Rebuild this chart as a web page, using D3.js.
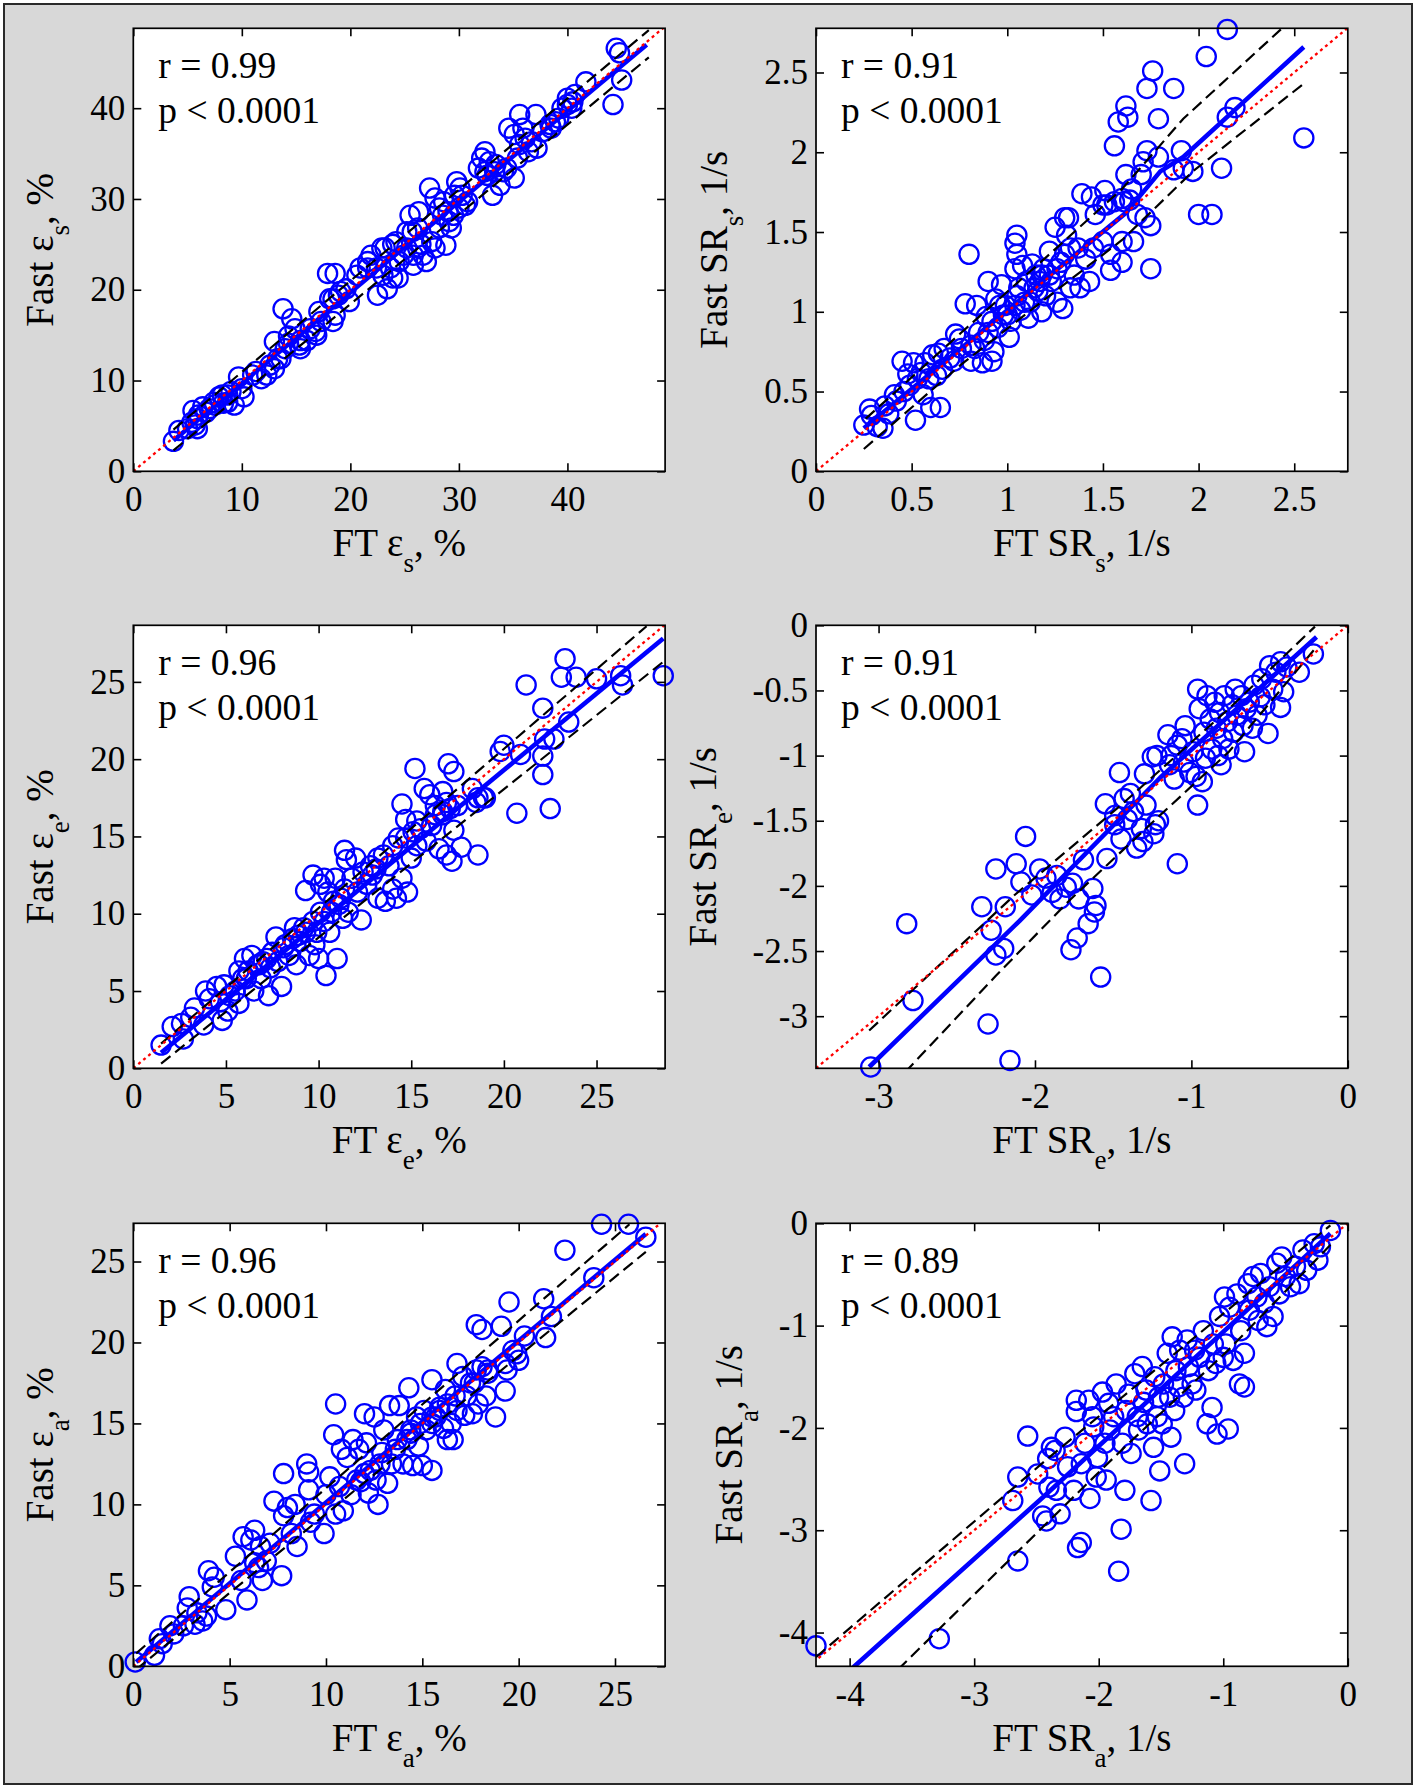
<!DOCTYPE html>
<html><head><meta charset="utf-8">
<script src="https://cdn.jsdelivr.net/npm/d3@7"></script>
<style>body{margin:0;background:#fff}svg{display:block}</style>
</head><body>
<script>
// ---------- DATA ----------
// Panel 1: FT εs vs Fast εs (%)
const ptsStrainS = [[3.7,3.3],[4.2,4.5],[5.5,6.7],[5.9,5.8],[5.9,4.7],[6.4,7.1],[7.4,7.6],[7.9,8.2],[8.3,7.5],[8.7,8.4],[9.3,7.3],[9.7,10.4],[10.2,8.2],[11.3,11.0],[12.3,10.6],[13.0,11.3],[13.0,14.3],[13.8,17.9],[13.6,12.4],[14.3,14.9],[14.6,16.8],[14.9,15.7],[15.4,13.5],[15.4,14.4],[16.3,15.7],[16.9,15.0],[17.1,17.6],[17.9,21.8],[18.6,21.8],[18.4,16.5],[18.4,19.0],[19.1,19.8],[19.9,18.7],[20.6,21.6],[21.6,23.1],[22.5,19.4],[22.9,24.6],[23.4,20.1],[23.7,22.4],[24.2,25.3],[24.4,21.3],[24.9,23.8],[25.2,26.4],[25.5,28.2],[25.8,22.7],[26.2,24.6],[26.3,28.6],[26.7,23.8],[27.0,23.1],[27.3,31.2],[27.8,30.1],[28.2,26.8],[28.8,24.9],[29.1,27.5],[29.8,31.9],[30.0,29.0],[30.3,30.4],[30.6,29.3],[32.4,35.2],[32.6,32.6],[33.1,30.4],[33.4,33.8],[33.8,31.5],[34.4,33.4],[34.6,37.8],[35.1,32.3],[35.6,39.3],[35.9,37.8],[36.4,35.2],[37.1,39.3],[37.2,35.6],[38.4,38.2],[39.2,38.9],[40.0,41.1],[40.4,40.0],[41.7,42.9],[44.2,40.4],[44.5,46.6],[44.8,46.1],[45.0,43.1],
[21.9,23.8],[22.4,22.4],[23.2,24.6],[23.9,25.0],[24.5,23.1],[25.2,24.6],[25.7,26.4],[23.9,21.3],[23.0,21.6],[29.6,30.4],[30.1,31.2],[30.8,29.7],[32.1,34.5],[32.8,34.1],[34.1,33.0],[35.4,34.5],[36.1,36.7],[36.7,36.3],[38.5,37.8],[39.5,40.0],[40.0,40.4],[40.5,40.7],[40.7,41.5],[38.9,38.5],[37.7,37.4],[35.1,37.1],[35.6,36.0],[32.4,33.0],[31.8,33.4],[33.3,33.0],[28.2,29.0],[28.5,28.2],[28.6,29.7],[29.0,28.6],[29.3,26.8],[29.5,28.2],[27.5,25.3],[27.8,24.6],[26.5,25.0],[26.2,26.8],[25.8,23.8],[21.6,22.4],[20.9,22.4],[19.6,20.1],[18.9,19.4],[18.6,17.2],[18.1,19.0],[17.3,16.5],[16.8,15.4],[16.0,14.4],[15.3,13.9],[14.3,14.1],[14.0,13.5],[13.3,12.4],[12.6,11.7],[11.8,10.2],[11.0,10.6],[10.0,9.1],[9.0,8.8],[8.7,7.6],[8.2,8.4],[7.5,7.3],[7.0,6.9],[6.7,6.5],[6.0,6.2],[5.4,5.4],[5.7,5.1],[5.0,4.7]];
const fitStrainS = [[3.7,3.4],[47.3,47.0]];
const upStrainS = [[3.7,4.6],[47.5,48.6]];
const loStrainS = [[3.7,2.3],[47.5,45.6]];

// Panel 2: FT SRs vs Fast SRs (1/s)
const ptsRateS = [[0.25,0.29],[0.28,0.39],[0.29,0.35],[0.32,0.28],[0.35,0.27],[0.36,0.41],[0.38,0.36],[0.41,0.48],[0.45,0.69],[0.46,0.50],[0.48,0.61],[0.49,0.54],[0.51,0.68],[0.52,0.32],[0.53,0.58],[0.56,0.48],[0.57,0.68],[0.60,0.40],[0.61,0.73],[0.63,0.60],[0.64,0.74],[0.65,0.40],[0.67,0.77],[0.70,0.71],[0.73,0.86],[0.75,0.83],[0.78,1.05],[0.80,1.36],[0.81,0.69],[0.83,0.77],[0.84,1.04],[0.87,0.68],[0.88,0.82],[0.89,0.97],[0.90,1.19],[0.92,0.69],[0.93,0.75],[0.94,1.08],[0.95,0.90],[0.97,1.17],[0.98,0.98],[0.99,1.04],[1.01,0.84],[1.02,0.94],[1.04,1.43],[1.04,1.27],[1.05,1.48],[1.05,1.36],[1.05,1.10],[1.07,1.01],[1.08,1.29],[1.10,1.19],[1.11,0.96],[1.12,1.06],[1.13,1.30],[1.15,1.23],[1.16,1.13],[1.18,1.23],[1.18,1.00],[1.20,1.10],[1.22,1.38],[1.23,1.19],[1.25,1.53],[1.26,1.06],[1.28,1.31],[1.29,1.02],[1.30,1.59],[1.31,1.48],[1.32,1.59],[1.33,1.15],[1.35,1.23],[1.37,1.40],[1.38,1.15],[1.39,1.74],[1.41,1.33],[1.43,1.19],[1.44,1.72],[1.45,1.40],[1.46,1.61],[1.50,1.44],[1.51,1.76],[1.52,1.67],[1.54,1.36],[1.54,1.26],[1.56,2.04],[1.58,2.19],[1.60,1.31],[1.60,1.44],[1.61,1.69],[1.62,2.29],[1.63,2.22],[1.62,1.86],[1.64,1.70],[1.66,1.44],[1.68,1.61],[1.70,1.86],[1.71,1.94],[1.72,1.59],[1.73,2.40],[1.73,2.01],[1.75,1.54],[1.75,1.27],[1.76,2.51],[1.79,2.21],[1.79,1.97],[1.87,2.40],[1.87,1.89],[1.91,2.01],[1.92,1.90],[1.97,1.88],[2.00,1.61],[2.04,2.60],[2.07,1.61],[2.12,1.90],[2.15,2.77],[2.15,2.22],[2.19,2.28],[2.55,2.09],
[0.96,1.04],[1.00,0.98],[1.04,1.04],[1.06,1.15],[1.09,1.06],[1.14,1.15],[1.17,1.19],[1.19,1.27],[1.22,1.23],[1.26,1.27],[1.30,1.36],[1.33,1.40],[0.92,0.94],[0.90,0.87],[0.85,0.87],[0.81,0.79],[0.76,0.77],[0.72,0.69],[0.66,0.64],[0.59,0.58],[0.55,0.62],[0.42,0.44],[1.50,1.67],[1.56,1.69],[1.60,1.71],[1.65,1.77]];
const fitRateS = [[0.25,0.27],[1.62,1.62],[1.80,1.88],[1.92,1.97],[2.55,2.66]];
const upRateS = [[0.26,0.33],[0.76,0.87],[1.22,1.36],[1.60,1.77],[1.92,2.21],[2.43,2.77]];
const loRateS = [[0.25,0.14],[0.76,0.67],[1.22,1.10],[1.60,1.45],[1.97,1.88],[2.56,2.44]];

// Panel 3: FT εe vs Fast εe (%)
const ptsStrainE = [[1.5,1.5],[2.1,2.7],[2.7,1.9],[2.6,2.9],[3.1,3.3],[3.3,3.9],[3.8,2.8],[3.9,5.0],[4.1,4.5],[4.5,5.3],[4.7,4.3],[4.8,3.1],[4.9,5.4],[5.1,3.7],[5.2,4.7],[5.7,4.2],[5.7,6.3],[6.0,7.1],[6.1,5.8],[6.4,7.3],[6.5,5.0],[6.7,6.7],[6.9,5.8],[7.2,7.1],[7.3,4.7],[7.4,6.5],[7.7,8.5],[7.8,6.9],[8.0,5.3],[8.1,7.8],[8.4,7.3],[8.7,9.1],[8.8,6.7],[9.0,8.2],[9.2,9.1],[9.3,11.5],[9.5,7.3],[9.7,12.5],[9.8,8.0],[9.9,8.8],[10.0,7.1],[10.1,11.9],[10.3,12.3],[10.4,6.0],[10.5,11.4],[10.6,8.8],[10.7,10.1],[10.9,12.3],[11.0,7.1],[11.1,10.6],[11.3,9.7],[11.4,14.1],[11.5,13.5],[11.6,10.1],[12.0,13.6],[12.1,11.4],[12.3,9.6],[12.6,11.9],[12.9,12.5],[13.1,12.9],[13.2,11.0],[13.5,13.8],[13.6,10.8],[13.8,13.1],[14.0,11.6],[14.2,11.0],[14.5,17.1],[14.5,12.3],[14.8,11.4],[14.7,16.1],[14.7,14.9],[15.0,13.6],[15.2,19.4],[15.3,14.4],[15.5,15.5],[15.7,18.1],[15.8,14.7],[16.0,17.7],[16.1,15.7],[16.3,17.0],[16.5,14.2],[16.7,17.9],[16.7,16.4],[16.9,13.8],[17.0,19.7],[17.1,16.8],[17.2,13.4],[17.3,19.2],[17.3,15.4],[17.7,14.3],[18.3,18.1],[18.5,17.2],[18.6,13.8],[18.9,17.5],[19.8,20.5],[20.0,20.9],[20.7,16.5],[20.9,20.3],[21.2,24.8],[22.1,23.3],[22.1,20.2],[22.1,19.0],[22.2,21.3],[22.5,16.8],[22.7,21.3],[23.3,26.5],[23.1,25.3],[23.5,22.4],[23.9,25.3],[25.0,25.2],[26.3,25.4],[26.4,24.8],[28.6,25.4],
[5.5,5.0],[5.9,5.8],[6.2,6.3],[6.8,6.7],[7.0,6.9],[7.5,7.5],[8.2,8.0],[8.6,8.4],[8.9,8.6],[9.3,8.8],[9.7,9.5],[10.1,10.1],[10.3,9.5],[10.8,10.8],[11.2,11.0],[11.4,11.6],[11.8,12.3],[12.4,12.7],[12.8,13.1],[13.2,13.6],[14.0,14.4],[14.3,14.9],[15.1,15.3],[15.3,16.0],[16.3,16.4],[16.7,16.6],[16.9,17.2],[17.5,17.0],[18.6,17.5],[19.0,17.5]];
const fitStrainE = [[1.5,1.0],[28.6,27.8]];
const upStrainE = [[1.5,1.6],[27.7,28.6]];
const loStrainE = [[1.5,0.3],[28.6,26.3]];

// Panel 4: FT SRe vs Fast SRe (1/s)
const ptsRateE = [[-3.05,-3.39],[-2.82,-2.29],[-2.78,-2.88],[-2.34,-2.16],[-2.30,-3.06],[-2.28,-2.34],[-2.25,-1.87],[-2.25,-2.53],[-2.20,-2.48],[-2.19,-2.16],[-2.16,-3.34],[-2.12,-1.83],[-2.09,-1.97],[-2.06,-1.62],[-2.02,-2.07],[-1.97,-1.87],[-1.93,-1.94],[-1.89,-2.05],[-1.86,-1.92],[-1.84,-2.10],[-1.80,-2.01],[-1.77,-2.49],[-1.76,-1.98],[-1.73,-2.40],[-1.72,-2.10],[-1.69,-1.80],[-1.66,-2.29],[-1.63,-2.02],[-1.62,-2.20],[-1.61,-2.15],[-1.58,-2.70],[-1.55,-1.37],[-1.54,-1.79],[-1.49,-1.53],[-1.49,-1.46],[-1.46,-1.13],[-1.45,-1.64],[-1.43,-1.33],[-1.41,-1.49],[-1.39,-1.29],[-1.37,-1.43],[-1.35,-1.71],[-1.32,-1.56],[-1.31,-1.66],[-1.30,-1.14],[-1.29,-1.38],[-1.25,-1.01],[-1.24,-1.60],[-1.23,-1.53],[-1.21,-1.50],[-1.22,-1.00],[-1.15,-0.84],[-1.14,-1.07],[-1.13,-1.00],[-1.11,-1.18],[-1.09,-0.92],[-1.09,-1.83],[-1.06,-0.87],[-1.05,-1.05],[-1.04,-0.77],[-1.01,-1.13],[-0.99,-0.97],[-0.97,-1.16],[-0.96,-1.38],[-0.96,-0.49],[-0.95,-0.64],[-0.93,-1.20],[-0.92,-0.82],[-0.91,-1.02],[-0.90,-0.54],[-0.88,-0.72],[-0.87,-0.95],[-0.85,-0.59],[-0.84,-0.79],[-0.83,-1.00],[-0.82,-0.67],[-0.81,-1.07],[-0.80,-0.87],[-0.79,-0.54],[-0.77,-0.74],[-0.76,-0.95],[-0.74,-0.61],[-0.73,-0.82],[-0.72,-0.49],[-0.71,-0.69],[-0.68,-0.54],[-0.67,-0.77],[-0.66,-0.97],[-0.65,-0.64],[-0.63,-0.59],[-0.61,-0.79],[-0.60,-0.46],[-0.58,-0.69],[-0.56,-0.55],[-0.55,-0.41],[-0.53,-0.61],[-0.51,-0.83],[-0.50,-0.31],[-0.48,-0.49],[-0.46,-0.36],[-0.43,-0.28],[-0.43,-0.63],[-0.41,-0.51],[-0.39,-0.32],[-0.31,-0.36],[-0.22,-0.22]];
const fitRateE = [[-3.06,-3.39],[-2.10,-2.27],[-1.20,-1.17],[-0.20,-0.09]];
const upRateE = [[-3.06,-3.11],[-2.13,-2.07],[-1.45,-1.38],[-0.76,-0.64],[-0.21,-0.01]];
const loRateE = [[-2.83,-3.43],[-2.25,-2.69],[-1.77,-2.10],[-1.22,-1.48],[-0.76,-0.97],[-0.21,-0.18]];

// Panel 5: FT εa vs Fast εa (%)
const ptsStrainA = [[0.1,0.27],[1.1,0.68],[1.35,1.7],[1.5,1.4],[1.9,2.5],[2.1,2.0],[2.6,2.5],[2.8,3.6],[2.9,4.3],[3.2,2.6],[3.3,3.3],[3.6,2.8],[3.8,3.1],[3.9,5.9],[4.2,5.5],[4.1,4.9],[4.8,3.5],[5.3,6.8],[5.6,5.3],[5.7,8.0],[5.9,4.1],[6.1,7.8],[6.3,8.4],[6.3,6.4],[6.5,6.1],[6.6,7.4],[6.7,5.3],[6.9,6.5],[7.1,7.6],[7.3,10.2],[7.7,5.6],[7.8,11.9],[7.8,9.3],[8.0,9.8],[8.2,8.2],[8.4,10.0],[8.5,7.4],[9.0,12.5],[9.1,12.0],[9.1,10.9],[9.2,8.9],[9.4,9.4],[9.9,8.2],[10.0,10.6],[10.2,11.7],[10.4,14.3],[10.5,16.2],[10.5,9.4],[10.7,11.1],[10.8,13.4],[10.9,9.6],[11.1,12.9],[11.3,10.6],[11.4,14.0],[11.7,13.4],[11.8,11.4],[12.0,15.6],[12.1,13.8],[12.2,10.7],[12.3,12.1],[12.5,15.4],[12.6,11.5],[12.7,10.0],[12.9,13.2],[13.0,14.6],[13.2,11.3],[13.3,16.1],[13.4,12.5],[13.7,14.0],[13.8,16.1],[14.0,12.5],[14.2,14.0],[14.3,17.2],[14.4,14.6],[14.5,12.4],[14.7,15.4],[14.8,13.6],[15.0,12.4],[15.1,15.8],[15.2,14.6],[15.5,15.0],[15.5,17.7],[15.5,12.1],[15.7,15.4],[15.9,16.0],[16.1,14.7],[16.2,17.1],[16.3,14.0],[16.5,15.0],[16.6,14.0],[16.8,18.7],[16.8,15.8],[17.1,17.9],[17.2,15.5],[17.3,16.7],[17.5,17.5],[17.6,15.6],[17.8,21.1],[17.8,18.3],[17.9,16.2],[18.1,20.8],[18.1,18.5],[18.3,16.7],[18.4,18.3],[18.8,15.4],[19.1,21.0],[19.3,17.0],[19.4,18.3],[19.5,22.5],[19.7,19.5],[20.0,18.9],[20.3,20.4],[21.3,22.7],[21.4,20.3],[21.7,21.6],[22.4,25.7],[23.9,24.0],[24.3,27.3],[25.7,27.3],[26.6,26.5],
[11.6,11.5],[12.0,11.9],[12.8,12.5],[13.6,13.4],[14.4,14.4],[14.9,15.0],[15.5,15.4],[15.9,15.8],[16.3,16.2],[16.7,16.7],[17.7,17.5],[18.4,18.1],[19.3,18.7],[19.9,19.3]];
const fitStrainA = [[0.15,0.27],[26.6,26.7]];
const upStrainA = [[0.15,0.8],[25.75,27.3]];
const loStrainA = [[0.15,-0.2],[26.6,25.6]];

// Panel 6: FT SRa vs Fast SRa (1/s)
const ptsRateA = [[-4.27,-4.13],[-3.28,-4.06],[-2.69,-2.71],[-2.65,-3.30],[-2.65,-2.48],[-2.57,-2.08],[-2.49,-2.45],[-2.45,-2.86],[-2.42,-2.91],[-2.41,-2.30],[-2.40,-2.58],[-2.38,-2.19],[-2.35,-2.22],[-2.34,-2.61],[-2.31,-2.84],[-2.27,-2.09],[-2.25,-2.38],[-2.20,-2.61],[-2.18,-1.73],[-2.18,-1.84],[-2.17,-3.17],[-2.14,-3.12],[-2.14,-2.35],[-2.11,-2.15],[-2.08,-1.73],[-2.07,-2.69],[-2.05,-1.89],[-2.04,-1.99],[-2.02,-2.48],[-2.01,-2.29],[-1.97,-1.65],[-1.95,-2.15],[-1.94,-2.51],[-1.92,-1.76],[-1.91,-2.02],[-1.88,-1.89],[-1.86,-1.57],[-1.84,-3.40],[-1.82,-2.99],[-1.81,-2.15],[-1.79,-2.61],[-1.78,-1.83],[-1.76,-1.67],[-1.74,-2.25],[-1.71,-1.47],[-1.69,-1.89],[-1.68,-2.02],[-1.65,-1.40],[-1.64,-1.75],[-1.62,-1.63],[-1.61,-1.96],[-1.58,-2.71],[-1.56,-2.19],[-1.55,-1.50],[-1.53,-1.89],[-1.52,-1.70],[-1.51,-2.42],[-1.49,-1.96],[-1.48,-1.57],[-1.45,-1.27],[-1.43,-1.70],[-1.42,-2.09],[-1.41,-1.11],[-1.39,-1.83],[-1.38,-1.44],[-1.36,-1.60],[-1.35,-1.24],[-1.32,-1.70],[-1.31,-2.35],[-1.29,-1.14],[-1.28,-1.40],[-1.25,-1.57],[-1.23,-1.24],[-1.22,-1.63],[-1.19,-1.31],[-1.16,-1.05],[-1.13,-1.96],[-1.12,-1.44],[-1.09,-1.80],[-1.08,-1.18],[-1.06,-1.37],[-1.05,-2.06],[-1.03,-0.91],[-1.00,-1.31],[-0.99,-0.72],[-0.98,-1.18],[-0.96,-2.01],[-0.95,-0.82],[-0.92,-1.34],[-0.89,-0.69],[-0.87,-1.57],[-0.86,-1.05],[-0.83,-1.60],[-0.83,-1.27],[-0.80,-0.59],[-0.79,-0.85],[-0.76,-0.52],[-0.73,-0.72],[-0.72,-0.95],[-0.70,-0.49],[-0.67,-0.78],[-0.65,-1.01],[-0.63,-0.62],[-0.60,-0.91],[-0.57,-0.39],[-0.55,-0.69],[-0.53,-0.33],[-0.50,-0.52],[-0.46,-0.62],[-0.42,-0.42],[-0.39,-0.59],[-0.36,-0.26],[-0.33,-0.46],[-0.27,-0.20],[-0.24,-0.36],[-0.22,-0.23],[-0.14,-0.07]];
const fitRateA = [[-3.97,-4.34],[-2.45,-2.68],[-0.14,-0.10]];
const upRateA = [[-4.27,-4.24],[-2.40,-2.29],[-0.14,-0.02]];
const loRateA = [[-3.61,-4.36],[-2.40,-2.91],[-1.82,-2.22],[-0.96,-1.24],[-0.13,-0.20]];

// axis limits and tick values
const xDomains = [[0,49.0],[0,2.78],[0,28.7],[-3.4,0],[0,27.6],[-4.27,0]];
const yDomains = [[0,48.8],[0,2.777],[0,28.66],[-3.4,0],[0,27.36],[-4.33,0]];
const xTicks = [[0,10,20,30,40],[0,0.5,1,1.5,2,2.5],[0,5,10,15,20,25],[-3,-2,-1,0],[0,5,10,15,20,25],[-4,-3,-2,-1,0]];
const yTicks = [[0,10,20,30,40],[0,0.5,1,1.5,2,2.5],[0,5,10,15,20,25],[-3,-2.5,-2,-1.5,-1,-0.5,0],[0,5,10,15,20,25],[-4,-3,-2,-1,0]];

// labels (main text, subscript, tail)
const xLabels = [["FT ε","s",", %"],["FT SR","s",", 1/s"],["FT ε","e",", %"],["FT SR","e",", 1/s"],["FT ε","a",", %"],["FT SR","a",", 1/s"]];
const yLabels = [["Fast ε","s",", %"],["Fast SR","s",", 1/s"],["Fast ε","e",", %"],["Fast SR","e",", 1/s"],["Fast ε","a",", %"],["Fast SR","a",", 1/s"]];
const rValues = ["0.99","0.91","0.96","0.91","0.96","0.89"];
const pText = "p < 0.0001";

// ---------- DRAW ----------
const W = 1418, H = 1789;
const FONT = "'Liberation Serif','Times New Roman',serif";
const svg = d3.select("body").append("svg").attr("width", W).attr("height", H);
svg.append("rect").attr("x",4).attr("y",4).attr("width",1408).attr("height",1780)
  .attr("fill","#d8d8d8").attr("stroke","#2a2a2a").attr("stroke-width",2);

const colX = [133.3, 816];
const rowY = [28.3, 625.3, 1223.3];
const BW = 531.8, BH = 443;

const panels = [
  {pts: ptsStrainS, fit: fitStrainS, up: upStrainS, lo: loStrainS},
  {pts: ptsRateS, fit: fitRateS, up: upRateS, lo: loRateS},
  {pts: ptsStrainE, fit: fitStrainE, up: upStrainE, lo: loStrainE},
  {pts: ptsRateE, fit: fitRateE, up: upRateE, lo: loRateE},
  {pts: ptsStrainA, fit: fitStrainA, up: upStrainA, lo: loStrainA},
  {pts: ptsRateA, fit: fitRateA, up: upRateA, lo: loRateA}
];

const defs = svg.append("defs");

function addLabel(sel, parts, size, subSize, shift) {
  sel.append("tspan").text(parts[0]);
  sel.append("tspan").attr("font-size", subSize).attr("dy", shift).text(parts[1]);
  sel.append("tspan").attr("font-size", size).attr("dy", -shift).text(parts[2]);
}

panels.forEach((p, i) => {
  const x0 = colX[i % 2], y0 = rowY[Math.floor(i / 2)];
  const g = svg.append("g").attr("transform", `translate(${x0},${y0})`);
  const x = d3.scaleLinear().domain(xDomains[i]).range([0, BW]);
  const y = d3.scaleLinear().domain(yDomains[i]).range([BH, 0]);

  g.append("rect").attr("width", BW).attr("height", BH).attr("fill", "#fff");
  defs.append("clipPath").attr("id", "clip" + i).append("rect").attr("width", BW).attr("height", BH);

  // circles
  g.append("g").selectAll("circle").data(p.pts).join("circle")
    .attr("cx", d => x(d[0])).attr("cy", d => y(d[1])).attr("r", 9.6)
    .attr("fill", "none").attr("stroke", "#0000ff").attr("stroke-width", 2.3);

  const line = d3.line().x(d => x(d[0])).y(d => y(d[1]));
  const lg = g.append("g").attr("clip-path", `url(#clip${i})`);
  lg.append("path").attr("d", line(p.fit)).attr("fill", "none")
    .attr("stroke", "#0000ff").attr("stroke-width", 4.6).attr("stroke-linejoin","round");
  [p.up, p.lo].forEach(b => {
    lg.append("path").attr("d", line(b)).attr("fill", "none")
      .attr("stroke", "#000").attr("stroke-width", 2.2).attr("stroke-dasharray", "12,6");
  });
  const lo = Math.min(xDomains[i][0], yDomains[i][0]);
  const hi = Math.max(xDomains[i][1], yDomains[i][1]);
  lg.append("path").attr("d", line([[lo, lo], [hi, hi]])).attr("fill", "none")
    .attr("stroke", "#ff0000").attr("stroke-width", 2.3).attr("stroke-dasharray", "3,3.5");

  // axes
  const fmt = d => String(d);
  const styleAxis = s => {
    s.select(".domain").remove();
    s.attr("font-family", FONT).attr("font-size", 35);
    s.selectAll(".tick line").attr("stroke", "#000").attr("stroke-width", 1.6);
    s.selectAll(".tick text").attr("fill", "#000");
  };
  g.append("g").attr("transform", `translate(0,${BH})`)
    .call(d3.axisBottom(x).tickValues(xTicks[i]).tickSize(-8).tickPadding(15).tickFormat(fmt)).call(styleAxis);
  const leftAx = g.append("g")
    .call(d3.axisLeft(y).tickValues(yTicks[i]).tickSize(-8).tickPadding(8).tickFormat(fmt)).call(styleAxis);
  g.append("g").call(d3.axisTop(x).tickValues(xTicks[i]).tickSize(-8).tickFormat("")).call(styleAxis);
  g.append("g").attr("transform", `translate(${BW},0)`)
    .call(d3.axisRight(y).tickValues(yTicks[i]).tickSize(-8).tickFormat("")).call(styleAxis);

  g.append("rect").attr("width", BW).attr("height", BH).attr("fill", "none")
    .attr("stroke", "#000").attr("stroke-width", 1.7);

  // annotation
  g.append("text").attr("x", 25).attr("y", 50).attr("font-family", FONT).attr("font-size", 37.5)
    .text("r = " + rValues[i]);
  g.append("text").attr("x", 25).attr("y", 95).attr("font-family", FONT).attr("font-size", 37.5)
    .text(pText);

  // x label
  const xl = g.append("text").attr("x", BW / 2).attr("y", BH + 85).attr("text-anchor", "middle")
    .attr("font-family", FONT).attr("font-size", 39);
  addLabel(xl, xLabels[i], 39, 27, 16);

  // y label placed relative to widest tick label
  let maxW = 0;
  leftAx.selectAll(".tick text").each(function () { maxW = Math.max(maxW, this.getComputedTextLength()); });
  const off = maxW + 8 + 37;
  const yl = g.append("text").attr("transform", `translate(${-off},${BH / 2}) rotate(-90)`)
    .attr("text-anchor", "middle").attr("font-family", FONT).attr("font-size", 39);
  addLabel(yl, yLabels[i], 39, 27, 16);
});
</script>
</body></html>
